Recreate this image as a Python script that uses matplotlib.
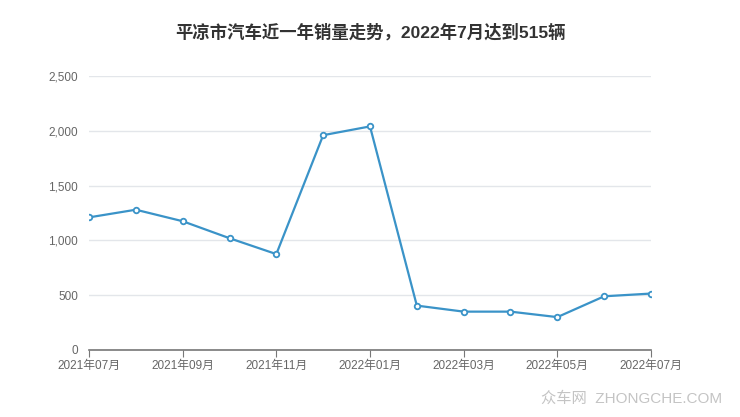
import matplotlib
matplotlib.use('Agg')
from matplotlib import pyplot as plt

plt.rcParams['font.family'] = ['Liberation Sans', 'Noto Sans CJK SC', 'DejaVu Sans']

# monthly sales, 2021-07 .. 2022-07
months = ['2021年07月', '2021年08月', '2021年09月', '2021年10月', '2021年11月', '2021年12月',
          '2022年01月', '2022年02月', '2022年03月', '2022年04月', '2022年05月', '2022年06月',
          '2022年07月']
sales = [1210, 1280, 1175, 1020, 875, 1960, 2040, 405, 350, 350, 300, 490, 515]
y_ticks = [0, 500, 1000, 1500, 2000, 2500]
y_labels = ['0', '500', '1,000', '1,500', '2,000', '2,500']
title = '平凉市汽车近一年销量走势，2022年7月达到515辆'

fig = plt.figure(figsize=(7.4, 4.17), dpi=100)
ax = fig.add_axes([89/740, 67/417, 562/740, 274/417])

x = list(range(len(months)))
ax.plot(x, sales, color='#3a93c8', linewidth=1.6, marker='o', markersize=4,
        markerfacecolor='white', markeredgecolor='#3a93c8', markeredgewidth=1.3, zorder=3)

ax.set_xlim(0, len(months) - 1)
ax.set_ylim(0, 2500)
ax.set_yticks(y_ticks)
ax.set_yticklabels(y_labels)
ax.set_xticks(x[::2])
ax.set_xticklabels(months[::2])

ax.grid(axis='y', color='#e3e6ea', linewidth=1)
ax.set_axisbelow(True)
for s in ['top', 'right', 'left']:
    ax.spines[s].set_visible(False)
ax.spines['bottom'].set_color('#777777')
ax.spines['bottom'].set_linewidth(1.2)
ax.tick_params(axis='y', length=0, pad=8, labelsize=8.5, labelcolor='#666666')
ax.tick_params(axis='x', length=5, color='#777777', pad=2, labelsize=8.5, labelcolor='#666666')

fig.text(0.5, 1 - 32/417, title, ha='center', va='center', fontsize=12.5,
         fontweight='bold', color='#333333', family=['Liberation Sans', 'Noto Sans CJK SC'])
fig.text(722/740, 1 - 399/417, '众车网  ZHONGCHE.COM', ha='right', va='center',
         fontsize=11, color='#c4c4c4')

plt.savefig('out.png', dpi=100)
